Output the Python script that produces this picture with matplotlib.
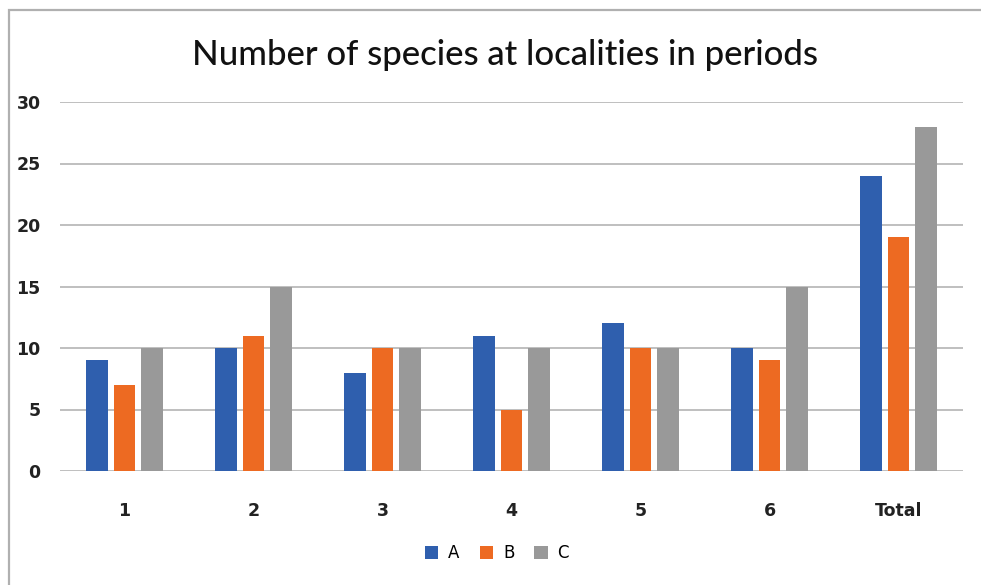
import matplotlib
matplotlib.use("Agg")
import matplotlib.pyplot as plt
import numpy as np
from matplotlib.patches import Rectangle

categories = ["1", "2", "3", "4", "5", "6", "Total"]
series_names = ["A", "B", "C"]
A = [9, 10, 8, 11, 12, 10, 24]
B = [7, 11, 10, 5, 10, 9, 19]
C = [10, 15, 10, 10, 10, 15, 28]
colors = ["#2f5fae", "#ed6a22", "#999999"]

fig = plt.figure(figsize=(9.81, 5.85), dpi=100)
ax = fig.add_axes([60/981, 1-471/585, (963-60)/981, (471-102)/585])

x = np.arange(len(categories))
w = 0.17
step = 0.21
for i, (vals, name, col) in enumerate(zip([A, B, C], series_names, colors)):
    ax.bar(x + (i-1)*step, vals, width=w, color=col, label=name, zorder=3)

ax.set_xlim(-0.5, len(categories)-0.5)
ax.set_ylim(0, 30)
ax.set_yticks(range(0, 31, 5))
ax.yaxis.grid(True, color="#bfbfbf", linewidth=1.4, zorder=0)
for s in ax.spines.values():
    s.set_visible(False)
ax.tick_params(length=0, labelsize=12.5, colors="#222222")
ax.tick_params(axis="y", pad=14)
ax.tick_params(axis="x", pad=22)
ax.set_xticks(x)
ax.set_xticklabels(categories, fontweight="bold")
for t in ax.get_yticklabels():
    t.set_fontweight("bold")

fig.text(505/981, 1-55/585, "Number of species at localities in periods",
         ha="center", va="center", fontsize=25, color="#111111",
         family=["Lato", "DejaVu Sans"], fontweight="medium")

leg = fig.legend(loc="center", bbox_to_anchor=(497/981, 1-553/585), ncol=3,
                 frameon=False, fontsize=12, handlelength=0.8, handleheight=0.8,
                 columnspacing=1.2, handletextpad=0.6)

fig.patches.append(Rectangle((9/981, -0.02), 1.05, 1-10/585+0.02,
                             transform=fig.transFigure, fill=False,
                             edgecolor="#b0b0b0", linewidth=1.6))

fig.savefig("out.png", dpi=100)
